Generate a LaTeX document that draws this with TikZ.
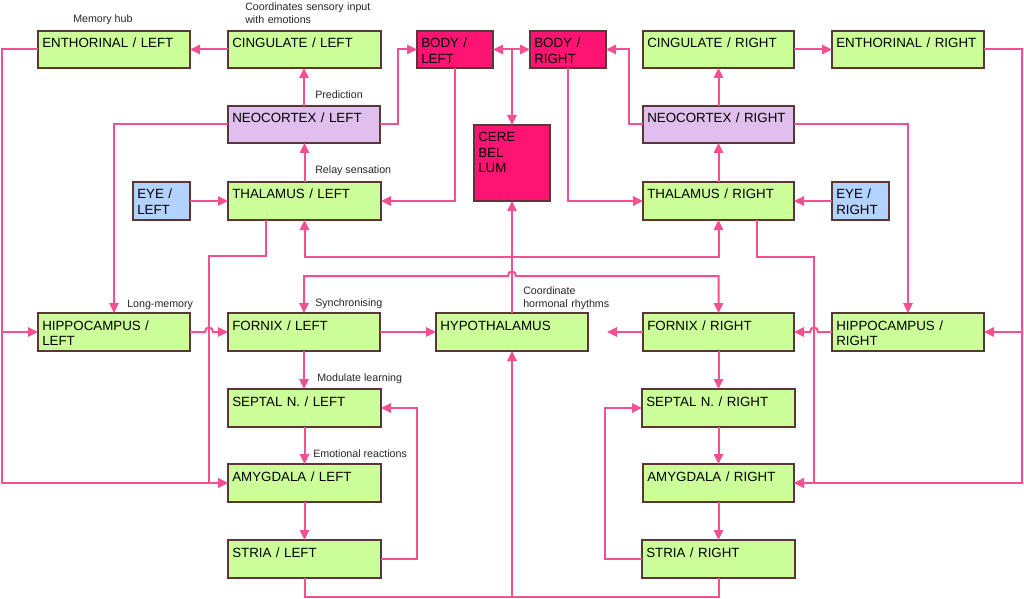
\documentclass[tikz,border=0pt]{standalone}
\usepackage{fontspec}
\setmainfont{Liberation Sans}
\usetikzlibrary{arrows.meta,calc}
\definecolor{gfill}{RGB}{204,255,153}
\definecolor{pfill}{RGB}{224,190,238}
\definecolor{bfill}{RGB}{178,210,255}
\definecolor{rfill}{RGB}{255,20,116}
\definecolor{lcol}{RGB}{242,80,145}
\definecolor{bcol}{RGB}{90,55,55}
\begin{document}
\begin{tikzpicture}[x=0.75pt,y=-0.75pt,
  bx/.style={draw=bcol, line width=0.8pt, anchor=north west, inner xsep=3.2pt, inner ysep=0pt,
    outer sep=0pt, align=left, text height=12.75pt, text depth=15pt,
    font=\fontsize{10pt}{11.5pt}\selectfont},
  gbox/.style={bx, fill=gfill},
  pbox/.style={bx, fill=pfill},
  ebox/.style={bx, fill=bfill},
  rbox/.style={bx, fill=rfill},
  tall/.style={text depth=15.75pt},
  line/.style={draw=lcol, line width=1.5pt},
  conn/.style={line, -{Triangle[length=7.5pt,width=7pt]}},
  conn2/.style={line, {Triangle[length=7.5pt,width=7pt]}-{Triangle[length=7.5pt,width=7pt]}},
  lbl/.style={font=\fontsize{8pt}{9.75pt}\selectfont, inner sep=0pt, anchor=base west, text=black!85}]
\fill[white] (0,0) rectangle (1024,599);
\useasboundingbox (0,0) rectangle (1024,599);
% nodes
\node[gbox, text width=107.6pt] (enthL) at (38,31) {ENTHORINAL / LEFT};
\node[gbox, text width=108.35pt] (cingL) at (228,31) {CINGULATE / LEFT};
\node[rbox, text width=50.6pt] (bodyL) at (417,31) {BODY /\\LEFT};
\node[rbox, text width=50.6pt] (bodyR) at (530,31) {BODY /\\RIGHT};
\node[gbox, text width=106.85pt] (cingR) at (643,31) {CINGULATE / RIGHT};
\node[gbox, text width=107.6pt] (enthR) at (832,31) {ENTHORINAL / RIGHT};
\node[pbox, text width=107.6pt] (neoL) at (228,106) {NEOCORTEX / LEFT};
\node[pbox, text width=106.85pt] (neoR) at (643,106) {NEOCORTEX / RIGHT};
\node[rbox, text width=50.6pt, text depth=44.25pt] (cere) at (474,125) {CERE\\BEL\\LUM};
\node[ebox, tall, text width=36.35pt] (eyeL) at (133,182) {EYE /\\LEFT};
\node[gbox, tall, text width=108.35pt] (thalL) at (228,182) {THALAMUS / LEFT};
\node[gbox, tall, text width=106.85pt] (thalR) at (643,182) {THALAMUS / RIGHT};
\node[ebox, tall, text width=36.35pt] (eyeR) at (832,182) {EYE /\\RIGHT};
\node[gbox, tall, text width=107.6pt] (hipL) at (38,313) {HIPPOCAMPUS /\\LEFT};
\node[gbox, tall, text width=107.6pt] (forL) at (228,313) {FORNIX / LEFT};
\node[gbox, tall, text width=107.6pt] (hyp) at (436,313) {HYPOTHALAMUS};
\node[gbox, tall, text width=106.85pt] (forR) at (643,313) {FORNIX / RIGHT};
\node[gbox, tall, text width=107.6pt] (hipR) at (832,313) {HIPPOCAMPUS /\\RIGHT};
\node[gbox, tall, text width=108.35pt] (sepL) at (228,389) {SEPTAL N. / LEFT};
\node[gbox, tall, text width=108.35pt] (sepR) at (642,389) {SEPTAL N. / RIGHT};
\node[gbox, tall, text width=108.35pt] (amyL) at (228,464) {AMYGDALA / LEFT};
\node[gbox, tall, text width=106.85pt] (amyR) at (643,464) {AMYGDALA / RIGHT};
\node[gbox, tall, text width=108.35pt] (strL) at (228,540) {STRIA / LEFT};
\node[gbox, tall, text width=108.35pt] (strR) at (642,540) {STRIA / RIGHT};
% labels
\node[lbl] (lmem) at (73,22.6) {Memory hub};
\node[lbl, text width=100pt, align=left] (lcoord) at (245,11) {Coordinates sensory input\\with emotions};
\node[lbl] (lpred) at (315,98.3) {Prediction};
\node[lbl] (lrelay) at (315,174) {Relay sensation};
\node[lbl] (llong) at (127,307) {Long-memory};
\node[lbl] (lsync) at (315,306) {Synchronising};
\node[lbl] (lmod) at (317,381.6) {Modulate learning};
\node[lbl] (lemo) at (313,457) {Emotional reactions};
\node[lbl, text width=80pt, align=left] (lhorm) at (523,294.3) {Coordinate\\hormonal rhythms};
% bus coordinates
\coordinate (lbus) at (2,332);
\coordinate (rbus) at (1022,332);
\coordinate (hypin) at ($(hyp.east)+(19,0)$);
% left side connectors
\draw[conn] (cingL.west) -- (enthL.east);
\draw[conn] (neoL.north) -- (neoL.north |- cingL.south);
\draw[conn] (thalL.north) -- (thalL.north |- neoL.south);
\draw[conn] (eyeL.east) -- (eyeL.east -| thalL.west);
\draw[conn] (neoL.east) -- ++(18,0) |- (bodyL.west);
\draw[conn] (neoL.west) -| (hipL.north);
\draw[conn] (bodyL.south) |- (thalL.east);
\draw[conn] (enthL.west) -| (lbus) -- (hipL.west);
\draw[conn] (lbus) |- (amyL.west);
\draw[conn] ($(thalL.south)+(-38.5,0)$) |- (209,256) |- (amyL.west);
\draw[conn] (hipL.east) -- (205,332) .. controls (205,326) and (213,326) .. (213,332) -- (forL.west);
\draw[conn] (forL.east) -- (forL.east -| hyp.west);
\draw[conn] (forL.south) -- (forL.south |- sepL.north);
\draw[conn] (sepL.south) -- (sepL.south |- amyL.north);
\draw[conn] (amyL.south) -- (amyL.south |- strL.north);
\draw[conn] (strL.east) -- ++(36,0) |- (sepL.east);
\draw[conn] (strL.south) |- (hyp.south |- 0,597) -- (hyp.south);
% centre
\draw[conn2] (bodyL.east) -- (bodyR.west);
\draw[conn] (bodyL.east -| cere.north) -- (cere.north);
\draw[conn] (hyp.north) -- (cere.south);
\draw[conn] (hyp.north |- 0,257) -| (thalL.south);
\draw[conn] (hyp.north |- 0,257) -| (thalR.south);
\draw[conn2] (forL.north) |- (508,276) .. controls (508,270) and (516,270) .. (516,276) -| (forR.north);
% right side connectors
\draw[conn] (cingR.east) -- (enthR.west);
\draw[conn] (neoR.north) -- (neoR.north |- cingR.south);
\draw[conn] (thalR.north) -- (thalR.north |- neoR.south);
\draw[conn] (eyeR.west) -- (eyeR.west -| thalR.east);
\draw[conn] (neoR.west) -- ++(-14,0) |- (bodyR.east);
\draw[conn] (neoR.east) -| (hipR.north);
\draw[conn] (bodyR.south) |- (thalR.west);
\draw[conn] (enthR.east) -| (rbus) -- (hipR.east);
\draw[conn] (rbus) |- (amyR.east);
\draw[conn] ($(thalR.south)+(38.5,0)$) |- (814,257) |- (amyR.east);
\draw[conn] (hipR.west) -- (818,332) .. controls (818,326) and (810,326) .. (810,332) -- (hipR.west -| forR.east);
\draw[conn] (forR.west) -- (hypin);
\draw[conn] (forR.south) -- (forR.south |- sepR.north);
\draw[conn] (sepR.south) -- (sepR.south |- amyR.north);
\draw[conn] (amyR.south) -- (amyR.south |- strR.north);
\draw[conn] (strR.west) -- ++(-37,0) |- (sepR.west);
\draw[line] (strR.south) |- (hyp.south |- 0,597);
\end{tikzpicture}
\end{document}
